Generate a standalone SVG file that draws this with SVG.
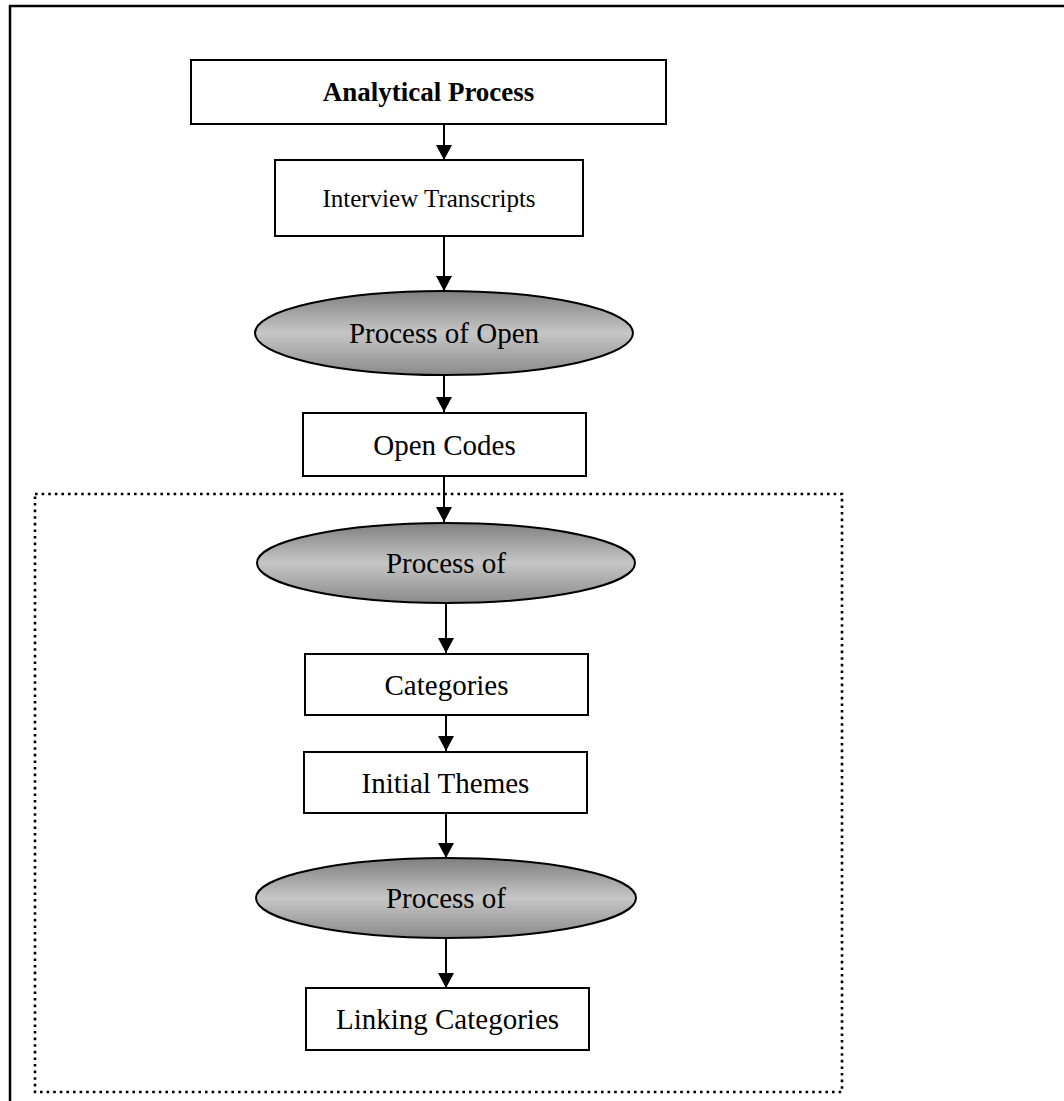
<svg xmlns="http://www.w3.org/2000/svg" width="1064" height="1101" viewBox="0 0 1064 1101">
  <style>
    .box { fill: #ffffff; stroke: #000000; stroke-width: 2; }
    .proc { fill: url(#procFill); stroke: #000000; stroke-width: 2; }
    .lbl { font-family: "Liberation Serif", "Times New Roman", serif; font-size: 29px; fill: #000000; text-anchor: middle; dominant-baseline: central; }
    .bold { font-weight: bold; font-size: 27px; }
    .small { font-size: 25px; }
    .edge { stroke: #000000; stroke-width: 2; fill: none; marker-end: url(#arrow); }
    .frame { fill: none; stroke: #000000; stroke-width: 2.5; }
    .group { fill: none; stroke: #000000; stroke-width: 2.6; stroke-dasharray: 2.6 4; }
  </style>
  <defs>
    <linearGradient id="procFill" x1="0" y1="0" x2="0" y2="1">
      <stop offset="0" stop-color="#7f7f7f"/>
      <stop offset="0.5" stop-color="#c6c6c6"/>
      <stop offset="1" stop-color="#8a8a8a"/>
    </linearGradient>
    <marker id="arrow" viewBox="0 0 15 16" refX="15" refY="8" markerWidth="15" markerHeight="16" markerUnits="userSpaceOnUse" orient="auto">
      <path d="M0,0 L15,8 L0,16 Z" fill="#000000"/>
    </marker>
  </defs>

  <rect width="1064" height="1101" fill="#ffffff"/>

  <!-- page frame, running past the right and bottom edges -->
  <rect class="frame" x="10" y="6" width="1070" height="1110"/>

  <!-- dotted grouping around the later stages -->
  <rect class="group" x="35" y="494" width="807" height="598"/>

  <g id="connectors">
    <line class="edge" x1="444" y1="124" x2="444" y2="160"/>
    <line class="edge" x1="444" y1="236" x2="444" y2="291"/>
    <line class="edge" x1="444" y1="375" x2="444" y2="412"/>
    <line class="edge" x1="444" y1="476" x2="444" y2="522"/>
    <line class="edge" x1="446" y1="603" x2="446" y2="653"/>
    <line class="edge" x1="446" y1="715" x2="446" y2="751"/>
    <line class="edge" x1="446" y1="813" x2="446" y2="858"/>
    <line class="edge" x1="446" y1="938" x2="446" y2="988"/>
  </g>

  <g id="analytical-process">
    <rect class="box" x="191" y="60" width="475" height="64"/>
    <text class="lbl bold" x="428.5" y="92">Analytical Process</text>
  </g>

  <g id="interview-transcripts">
    <rect class="box" x="275" y="160" width="308" height="76"/>
    <text class="lbl small" x="429" y="198">Interview Transcripts</text>
  </g>

  <g id="process-open">
    <ellipse class="proc" cx="444" cy="333" rx="189" ry="42"/>
    <text class="lbl" x="444" y="333">Process of Open</text>
  </g>

  <g id="open-codes">
    <rect class="box" x="303" y="413" width="283" height="63"/>
    <text class="lbl" x="444.5" y="445">Open Codes</text>
  </g>

  <g id="process-categorising">
    <ellipse class="proc" cx="446" cy="563" rx="189" ry="40"/>
    <text class="lbl" x="446" y="563">Process of</text>
  </g>

  <g id="categories">
    <rect class="box" x="305" y="654" width="283" height="61"/>
    <text class="lbl" x="446.5" y="685">Categories</text>
  </g>

  <g id="initial-themes">
    <rect class="box" x="304" y="752" width="283" height="61"/>
    <text class="lbl" x="445.5" y="783">Initial Themes</text>
  </g>

  <g id="process-linking">
    <ellipse class="proc" cx="446" cy="898" rx="190" ry="40"/>
    <text class="lbl" x="446" y="898">Process of</text>
  </g>

  <g id="linking-categories">
    <rect class="box" x="306" y="988" width="283" height="62"/>
    <text class="lbl" x="447.5" y="1019">Linking Categories</text>
  </g>
</svg>
